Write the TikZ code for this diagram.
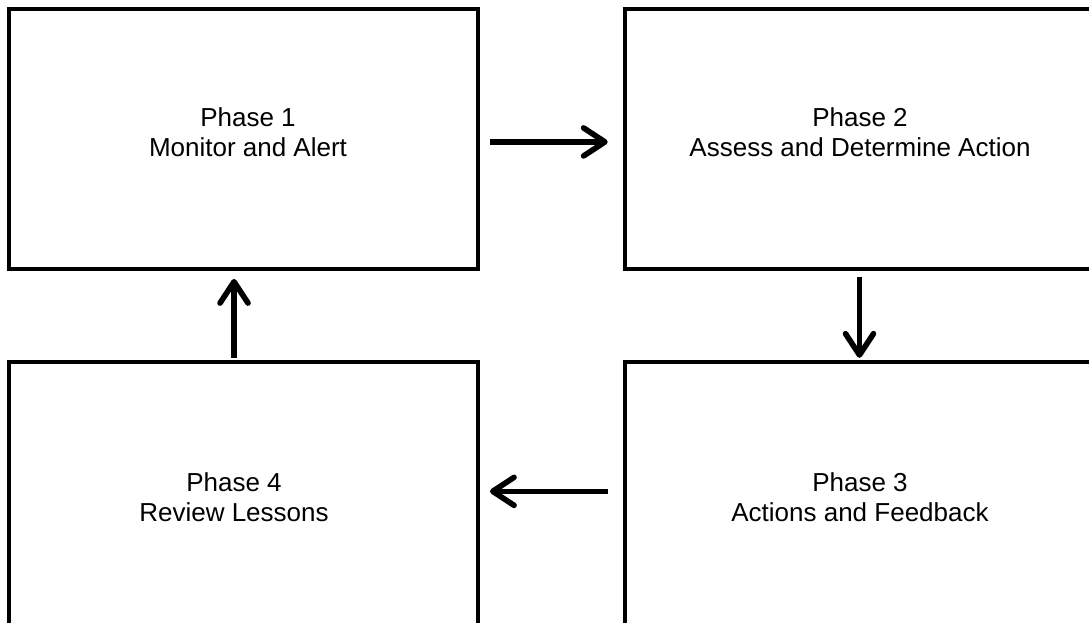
\documentclass[tikz,border=0pt]{standalone}
\usepackage{fontspec}
\setmainfont{Liberation Sans}
\usetikzlibrary{arrows.meta}
\begin{document}
\begin{tikzpicture}[x=0.75pt,y=-0.75pt,
  phasebox/.style={draw=black,line width=2.9pt,minimum width=351.75pt,
    minimum height=195pt,inner sep=0pt},
  tallbox/.style={phasebox,minimum height=225pt},
  phasetext/.style={align=center,inner sep=0pt,anchor=base,
    font=\fontsize{19.5pt}{22.5pt}\selectfont},
  flow/.style={draw=black,line width=4.2pt,
    -{Straight Barb[length=16pt,width=21pt,round]}}]
  \useasboundingbox (0,0) rectangle (1089,623);
  \clip (0,0) rectangle (1089,623);

  % the four phase boxes
  \node[phasebox] (p1) at (243.5,139) {};
  \node[phasebox] (p2) at (859.5,139) {};
  \node[tallbox]  (p3) at (859.5,512) {};
  \node[tallbox]  (p4) at (243.5,512) {};

  % box captions (anchored at the baseline of the last line)
  \node[phasetext] (t1) at (248,157) {Phase 1\\Monitor and Alert};
  \node[phasetext] (t2) at (860,157) {Phase 2\\Assess and Determine Action};
  \node[phasetext] (t3) at (860,522) {Phase 3\\Actions and Feedback};
  \node[phasetext] (t4) at (234,522) {Phase 4\\Review Lessons};

  % cycle arrows between the phases
  \draw[flow,shorten <=7.5pt,shorten >=11.5pt]
    ([yshift=-2.2pt]p1.east) -- ([yshift=-2.2pt]p2.west);
  \draw[flow,shorten <=4.5pt,shorten >=1.7pt] (p2.south) -- (p3.north);
  \draw[flow,shorten <=11.5pt,shorten >=7.5pt]
    ([yshift=15.5pt]p3.west) -- ([yshift=15.5pt]p4.east);
  \draw[flow,shorten <=1.7pt,shorten >=6pt]
    ([xshift=-7.1pt]p4.north) -- ([xshift=-7.1pt]p1.south);
\end{tikzpicture}
\end{document}
